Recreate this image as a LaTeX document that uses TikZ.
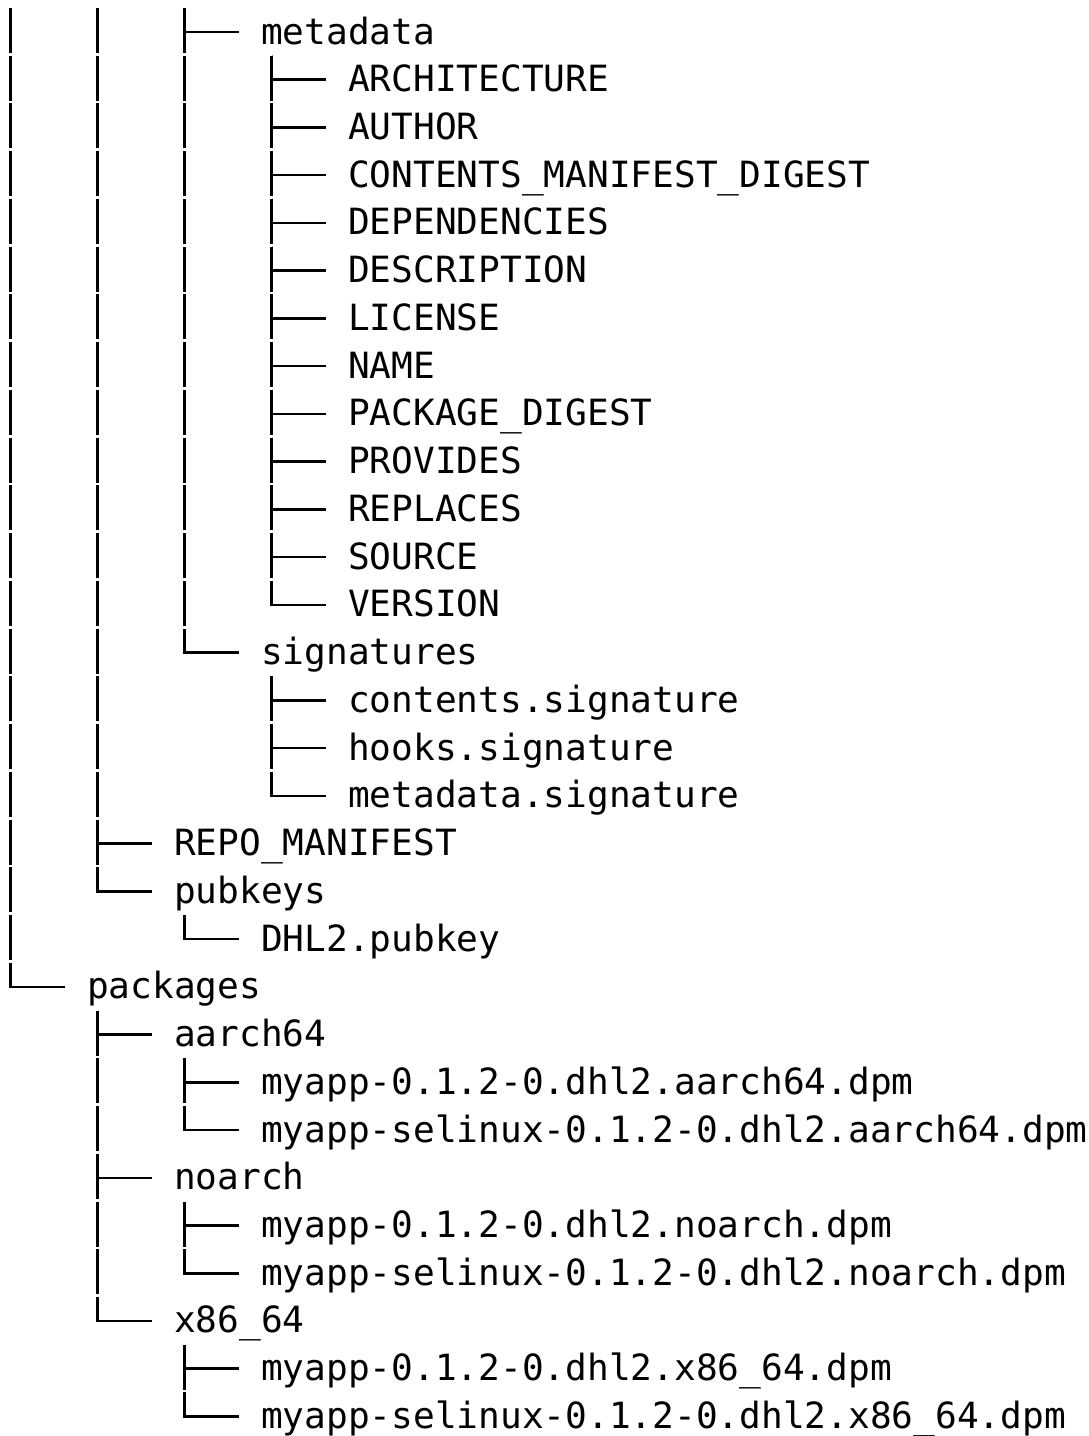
\documentclass[tikz,border=0pt]{standalone}
\usepackage{fontspec}
\newfontfamily\treefont{DejaVu Sans Mono}
\usetikzlibrary{calc}

\tikzset{
  entry/.style={anchor=base west, inner sep=0pt, outer sep=0pt,
    font=\treefont\fontsize{36.13pt}{47.74pt}\selectfont},
  treeline/.style={line width=2.5pt, black},
  stemline/.style={treeline, dash pattern=on 45pt off 2.74pt},
}

% one entry of the listing: name, depth, row, label
\newcommand\entry[4]{%
  \node[entry] (#1) at ({87*#2},{44+47.74*#3}) {#4};
  \coordinate (#1-hook) at ([xshift=-22pt,yshift=12pt]#1.base west);
  \coordinate (#1-stem) at ([xshift=10.5pt,yshift=-11.74pt]#1.base west);
}
% connector from a parent's stem to a child entry
\newcommand\branch[2]{%
  \draw[stemline] (#1) -- (#1 |- #2-hook);
  \draw[treeline] ($(#1 |- #2-hook)+(-1.25pt,0pt)$) -- (#2-hook);
}

\begin{document}
\begin{tikzpicture}[x=1pt,y=-1pt]
\useasboundingbox (0,0) rectangle (1089,1436);

% stems that come down from entries above the listing
\coordinate (top0) at (10.5,8);
\coordinate (top1) at (97.5,8);
\coordinate (top2) at (184.5,8);

\entry{metadata}{3}{0}{metadata}
\entry{arch}{4}{1}{ARCHITECTURE}
\entry{author}{4}{2}{AUTHOR}
\entry{cmd}{4}{3}{CONTENTS\_MANIFEST\_DIGEST}
\entry{deps}{4}{4}{DEPENDENCIES}
\entry{desc}{4}{5}{DESCRIPTION}
\entry{license}{4}{6}{LICENSE}
\entry{pname}{4}{7}{NAME}
\entry{pkgdigest}{4}{8}{PACKAGE\_DIGEST}
\entry{provides}{4}{9}{PROVIDES}
\entry{replaces}{4}{10}{REPLACES}
\entry{source}{4}{11}{SOURCE}
\entry{version}{4}{12}{VERSION}
\entry{signatures}{3}{13}{signatures}
\entry{contentssig}{4}{14}{contents.signature}
\entry{hookssig}{4}{15}{hooks.signature}
\entry{metadatasig}{4}{16}{metadata.signature}
\entry{repomanifest}{2}{17}{REPO\_MANIFEST}
\entry{pubkeys}{2}{18}{pubkeys}
\entry{dhlkey}{3}{19}{DHL2.pubkey}
\entry{packages}{1}{20}{packages}
\entry{aarch}{2}{21}{aarch64}
\entry{aarchapp}{3}{22}{myapp-0.1.2-0.dhl2.aarch64.dpm}
\entry{aarchsel}{3}{23}{myapp-selinux-0.1.2-0.dhl2.aarch64.dpm}
\entry{noarch}{2}{24}{noarch}
\entry{noarchapp}{3}{25}{myapp-0.1.2-0.dhl2.noarch.dpm}
\entry{noarchsel}{3}{26}{myapp-selinux-0.1.2-0.dhl2.noarch.dpm}
\entry{xarch}{2}{27}{x86\_64}
\entry{xarchapp}{3}{28}{myapp-0.1.2-0.dhl2.x86\_64.dpm}
\entry{xarchsel}{3}{29}{myapp-selinux-0.1.2-0.dhl2.x86\_64.dpm}

\branch{top2}{metadata}
\foreach \c in {arch,author,cmd,deps,desc,license,pname,pkgdigest,provides,replaces,source,version}
  {\branch{metadata-stem}{\c}}
\branch{top2}{signatures}
\foreach \c in {contentssig,hookssig,metadatasig}
  {\branch{signatures-stem}{\c}}
\branch{top1}{repomanifest}
\branch{top1}{pubkeys}
\branch{pubkeys-stem}{dhlkey}
\branch{top0}{packages}
\foreach \c in {aarch,noarch,xarch}
  {\branch{packages-stem}{\c}}
\branch{aarch-stem}{aarchapp}
\branch{aarch-stem}{aarchsel}
\branch{noarch-stem}{noarchapp}
\branch{noarch-stem}{noarchsel}
\branch{xarch-stem}{xarchapp}
\branch{xarch-stem}{xarchsel}
\end{tikzpicture}
\end{document}
